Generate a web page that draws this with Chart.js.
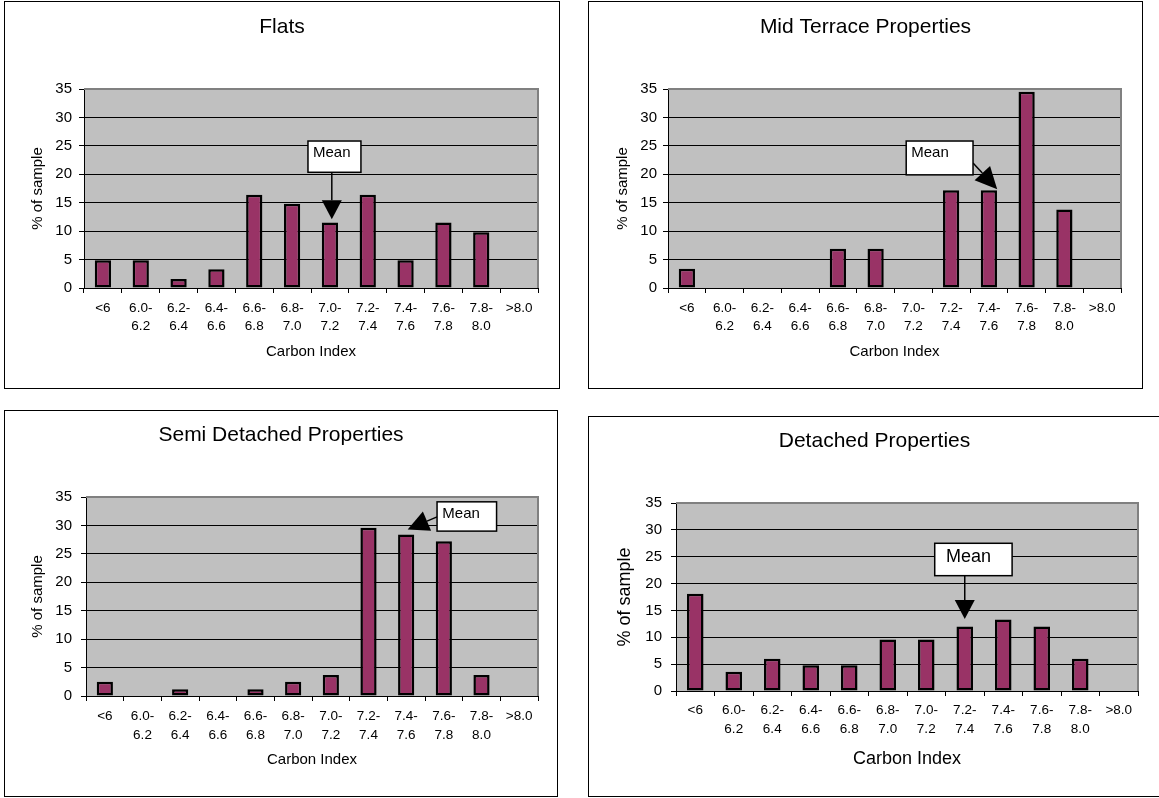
<!DOCTYPE html>
<html>
<head>
<meta charset="utf-8">
<title>Carbon Index distribution by property type</title>
<script src="https://cdn.jsdelivr.net/npm/chart.js@4.4.1/dist/chart.umd.min.js"></script>
<style>
  html, body { margin: 0; padding: 0; background: #fff; }
  body { width: 1159px; height: 798px; position: relative; overflow: hidden; }
  .panel { position: absolute; border: 1px solid #000; background: #fff; box-sizing: border-box; }
  .panel canvas { display: block; }
</style>
</head>
<body>
<div class="panel" id="p-flats"><canvas id="c-flats"></canvas></div>
<div class="panel" id="p-mid"><canvas id="c-mid"></canvas></div>
<div class="panel" id="p-semi"><canvas id="c-semi"></canvas></div>
<div class="panel" id="p-detached"><canvas id="c-detached"></canvas></div>
<script>
// Carbon Index bins (x axis) and y axis tick values
const binLabels = ['<6', ['6.0-', '6.2'], ['6.2-', '6.4'], ['6.4-', '6.6'], ['6.6-', '6.8'], ['6.8-', '7.0'],
                   ['7.0-', '7.2'], ['7.2-', '7.4'], ['7.4-', '7.6'], ['7.6-', '7.8'], ['7.8-', '8.0'], '>8.0'];
const yTickValues = [0, 5, 10, 15, 20, 25, 30, 35];

// % of sample in each bin
const flatsPct        = [4.9, 4.9, 1.6, 3.3, 16.4, 14.8, 11.5, 16.4, 4.9, 11.5, 9.8, 0];
const midTerracePct   = [3.4, 0, 0, 0, 6.9, 6.9, 0, 17.2, 17.2, 34.5, 13.8, 0];
const semiDetachedPct = [2.5, 0, 1.2, 0, 1.2, 2.5, 3.7, 29.6, 28.4, 27.2, 3.7, 0];
const detachedPct     = [18.1, 3.6, 6.0, 4.8, 4.8, 9.6, 9.6, 12.0, 13.3, 12.0, 6.0, 0];

// Bin holding the mean of each group
const flatsMeanBin = 6;
const midTerraceMeanBin = 8;
const semiDetachedMeanBin = 8;
const detachedMeanBin = 7;

const FONT = "Arial, 'Liberation Sans', sans-serif";
Chart.defaults.font.family = FONT;
Chart.defaults.color = '#000';

// Grey plot background with a grey frame on the top and right edges
const plotFrame = {
  id: 'plotFrame',
  beforeDraw(chart) {
    const { ctx, chartArea: a } = chart;
    ctx.save();
    ctx.fillStyle = '#c0c0c0';
    ctx.fillRect(a.left, a.top, a.right - a.left, a.bottom - a.top);
    ctx.restore();
  },
  beforeDatasetsDraw(chart) {
    const { ctx, chartArea: a } = chart;
    ctx.save();
    ctx.strokeStyle = '#808080';
    ctx.lineWidth = 2;
    ctx.beginPath();
    ctx.moveTo(a.left, a.top);
    ctx.lineTo(a.right, a.top);
    ctx.lineTo(a.right, a.bottom);
    ctx.stroke();
    ctx.restore();
  }
};

// Chart heading, centred on the whole panel
const panelTitle = {
  id: 'panelTitle',
  afterDraw(chart, args, o) {
    const ctx = chart.ctx;
    ctx.save();
    ctx.font = `${o.size}px ${FONT}`;
    ctx.fillStyle = '#000';
    ctx.textAlign = 'center';
    ctx.textBaseline = 'middle';
    ctx.fillText(o.text, chart.width / 2, o.y);
    ctx.restore();
  }
};

// "Mean" call-out box with an arrow pointing at the mean bin
const meanMarker = {
  id: 'meanMarker',
  afterDatasetsDraw(chart, args, o) {
    const xs = chart.scales.x, ys = chart.scales.y, ctx = chart.ctx;
    const px = v => xs.getPixelForValue(v);
    const py = v => ys.getPixelForValue(v);
    const x0 = px(o.box[0]), x1 = px(o.box[1]), y0 = py(o.box[2]), y1 = py(o.box[3]);
    const fx = px(o.from[0]), fy = py(o.from[1]);
    const tx = px(o.to[0]), ty = py(o.to[1]);
    const ang = Math.atan2(ty - fy, tx - fx);
    const hl = o.headLength, hw = o.headWidth;
    const mx = tx - hl * Math.cos(ang), my = ty - hl * Math.sin(ang);
    ctx.save();
    ctx.strokeStyle = '#000';
    ctx.fillStyle = '#000';
    ctx.lineWidth = 1.5;
    ctx.beginPath();
    ctx.moveTo(fx, fy);
    ctx.lineTo(mx, my);
    ctx.stroke();
    ctx.beginPath();
    ctx.moveTo(tx, ty);
    ctx.lineTo(mx + hw / 2 * Math.sin(ang), my - hw / 2 * Math.cos(ang));
    ctx.lineTo(mx - hw / 2 * Math.sin(ang), my + hw / 2 * Math.cos(ang));
    ctx.closePath();
    ctx.fill();
    ctx.fillStyle = '#fff';
    ctx.fillRect(x0, y0, x1 - x0, y1 - y0);
    ctx.lineWidth = 1.5;
    ctx.strokeRect(x0, y0, x1 - x0, y1 - y0);
    ctx.fillStyle = '#000';
    ctx.font = `${o.fontSize}px ${FONT}`;
    ctx.textAlign = 'left';
    ctx.textBaseline = 'middle';
    ctx.fillText('Mean', x0 + o.textDx, y0 + o.textDy);
    ctx.restore();
  }
};

const panels = [
  {
    id: 'flats', title: 'Flats', values: flatsPct,
    frame: { left: 4, top: 1, width: 556, height: 388 },
    plot: { left: 84, top: 89, right: 538, bottom: 288 },
    titleSize: 21, titleY: 24.8,
    xTick: { size: 13.5, lineHeight: 1.39, padding: 5.6 },
    yTick: { size: 15, padding: 7 },
    axisSize: 15, xTitleY: 350, yTitleX: 32.8,
    mean: { box: [flatsMeanBin - 0.58, flatsMeanBin + 0.82, 25.85, 20.35],
            from: [flatsMeanBin + 0.05, 20.35], to: [flatsMeanBin + 0.05, 12.1],
            headLength: 19, headWidth: 20, fontSize: 15, textDx: 5, textDy: 11.5 }
  },
  {
    id: 'mid', title: 'Mid Terrace Properties', values: midTerracePct,
    frame: { left: 588, top: 1, width: 555, height: 388 },
    plot: { left: 668, top: 89, right: 1121, bottom: 288 },
    titleSize: 21, titleY: 24.8,
    xTick: { size: 13.5, lineHeight: 1.39, padding: 5.6 },
    yTick: { size: 15, padding: 6 },
    axisSize: 15, xTitleY: 350.3, yTitleX: 34,
    mean: { box: [midTerraceMeanBin - 2.19, midTerraceMeanBin - 0.42, 25.85, 19.9],
            from: [midTerraceMeanBin - 0.42, 22.0], to: [midTerraceMeanBin + 0.22, 17.36],
            headLength: 22, headWidth: 21, fontSize: 15, textDx: 5, textDy: 11.5 }
  },
  {
    id: 'semi', title: 'Semi Detached Properties', values: semiDetachedPct,
    frame: { left: 4, top: 410, width: 554, height: 387 },
    plot: { left: 86, top: 497, right: 538, bottom: 696 },
    titleSize: 21, titleY: 24.5,
    xTick: { size: 13.5, lineHeight: 1.35, padding: 6.6 },
    yTick: { size: 15, padding: 9 },
    axisSize: 15, xTitleY: 349.3, yTitleX: 32.8,
    mean: { box: [semiDetachedMeanBin + 0.82, semiDetachedMeanBin + 2.4, 34.15, 29.0],
            from: [semiDetachedMeanBin + 0.82, 31.5], to: [semiDetachedMeanBin + 0.04, 29.3],
            headLength: 21, headWidth: 21, fontSize: 15, textDx: 5.3, textDy: 12.5 }
  },
  {
    id: 'detached', title: 'Detached Properties', values: detachedPct,
    frame: { left: 588, top: 416, width: 573, height: 381 },
    plot: { left: 676, top: 503, right: 1138, bottom: 691 },
    titleSize: 21, titleY: 24.7,
    xTick: { size: 13.5, lineHeight: 1.41, padding: 5.2 },
    yTick: { size: 15, padding: 9 },
    axisSize: 18, xTitleY: 342, yTitleX: 36.3,
    mean: { box: [detachedMeanBin - 0.78, detachedMeanBin + 1.23, 27.5, 21.47],
            from: [detachedMeanBin, 21.47], to: [detachedMeanBin, 13.4],
            headLength: 19, headWidth: 20, fontSize: 18, textDx: 11.3, textDy: 14.2 }
  }
];

panels.forEach(p => {
  const div = document.getElementById('p-' + p.id);
  div.style.left = p.frame.left + 'px';
  div.style.top = p.frame.top + 'px';
  div.style.width = p.frame.width + 'px';
  div.style.height = p.frame.height + 'px';
  const W = p.frame.width - 2, H = p.frame.height - 2;
  const ox = p.frame.left + 1, oy = p.frame.top + 1;
  const canvas = document.getElementById('c-' + p.id);
  canvas.width = W;
  canvas.height = H;
  canvas.style.width = W + 'px';
  canvas.style.height = H + 'px';

  const L = p.plot.left - ox, T = p.plot.top - oy;
  const R = p.plot.right - ox, B = p.plot.bottom - oy;
  const axisLH = p.axisSize * 1.2;
  const yMax = yTickValues[yTickValues.length - 1];

  new Chart(canvas, {
    type: 'bar',
    data: {
      labels: binLabels,
      datasets: [{
        data: p.values,
        backgroundColor: '#993366',
        borderColor: '#000',
        borderWidth: 2.5,
        borderSkipped: false,
        categoryPercentage: 1,
        barPercentage: 0.43
      }]
    },
    options: {
      responsive: false,
      animation: false,
      devicePixelRatio: 1,
      layout: { padding: { left: 0, top: T, right: W - R, bottom: 0 } },
      plugins: {
        legend: { display: false },
        tooltip: { enabled: false },
        title: { display: false },
        panelTitle: { text: p.title, size: p.titleSize, y: p.titleY },
        meanMarker: p.mean
      },
      scales: {
        x: {
          grid: { offset: true, drawOnChartArea: false, drawTicks: true, tickLength: 5, tickColor: '#000', color: '#000' },
          border: { display: true, color: '#000', width: 1 },
          ticks: {
            autoSkip: false, maxRotation: 0, minRotation: 0,
            padding: p.xTick.padding, color: '#000',
            font: { size: p.xTick.size, lineHeight: p.xTick.lineHeight }
          },
          title: {
            display: true, text: 'Carbon Index', color: '#000',
            font: { size: p.axisSize, lineHeight: 1.2 },
            padding: { top: 0, bottom: H - p.xTitleY - axisLH / 2 }
          },
          afterFit: s => { s.height = H - B; }
        },
        y: {
          min: yTickValues[0], max: yMax,
          grid: {
            color: c => (c.tick && c.tick.value === yMax) ? 'rgba(0,0,0,0)' : '#000',
            tickColor: '#000', tickLength: 5, drawTicks: true
          },
          border: { display: true, color: '#000', width: 1 },
          afterBuildTicks: s => { s.ticks = yTickValues.map(v => ({ value: v })); },
          ticks: { padding: p.yTick.padding, color: '#000', font: { size: p.yTick.size } },
          title: {
            display: true, text: '% of sample', color: '#000',
            font: { size: p.axisSize, lineHeight: 1.2 },
            padding: { top: p.yTitleX - axisLH / 2, bottom: 0 }
          },
          afterFit: s => { s.width = L; }
        }
      }
    },
    plugins: [plotFrame, panelTitle, meanMarker]
  });
});
</script>
</body>
</html>
